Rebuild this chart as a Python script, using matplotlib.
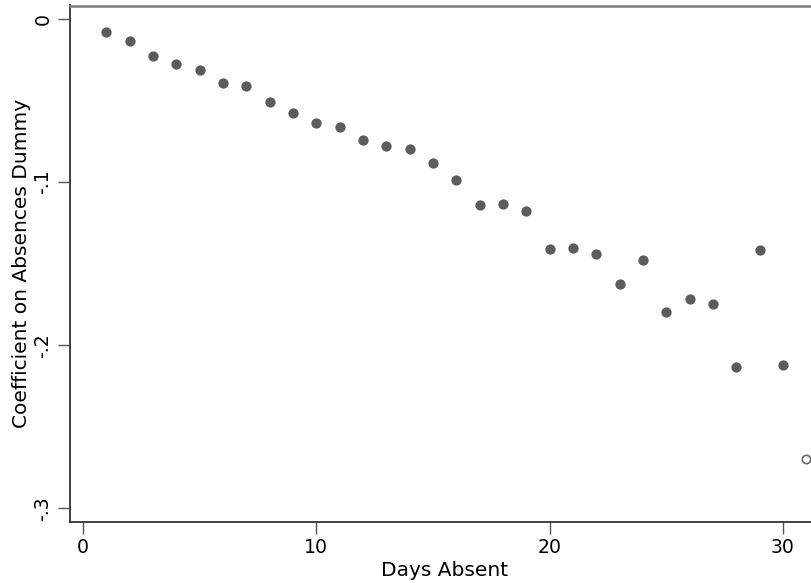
import matplotlib
matplotlib.use("Agg")
import matplotlib.pyplot as plt

days = list(range(1, 31))
coefs = [-0.0082, -0.0133, -0.0229, -0.0274, -0.0311, -0.0394, -0.0413, -0.0507,
         -0.0578, -0.0635, -0.0660, -0.0742, -0.0780, -0.0799, -0.0881, -0.0989,
         -0.1142, -0.1136, -0.1180, -0.1408, -0.1402, -0.1441, -0.1625, -0.1478,
         -0.1796, -0.1719, -0.1746, -0.2132, -0.1414, -0.2120]
open_days = [31]
open_coefs = [-0.2698]

xticks = [0, 10, 20, 30]
yticks = [0, -0.1, -0.2, -0.3]
yticklabels = ["0", "-.1", "-.2", "-.3"]

plt.rcParams['font.family'] = ['DejaVu Sans']
fig = plt.figure(figsize=(8.12, 5.83), dpi=100)
ax = fig.add_axes([69.7/812, 1-522/583, 1-69.7/812, (522-5.5)/583])

ax.plot(days, coefs, 'o', color='#5c5c5c', markersize=7.4, markeredgewidth=0, clip_on=False)
ax.plot(open_days, open_coefs, 'o', markerfacecolor='white', markeredgecolor='#6a6a6a',
        markersize=6.0, markeredgewidth=1.2, clip_on=False)

ax.set_xlim(-0.57, 31.246)
ax.set_ylim(-0.3084, 0.00828)

ax.set_xticks(xticks)
ax.set_xticklabels([str(t) for t in xticks])
ax.set_yticks(yticks)
ax.set_yticklabels(yticklabels, rotation=90, va='center')

for s in ['left', 'bottom']:
    ax.spines[s].set_color('#333333')
    ax.spines[s].set_linewidth(1.3)
ax.spines['top'].set_color('#7a7a7a')
ax.spines['top'].set_linewidth(1.8)
ax.spines['right'].set_visible(False)

ax.tick_params(axis='both', length=8.5, width=1.0, color='#555555', labelsize=13.6, labelcolor='black')
ax.tick_params(axis='x', pad=3)
ax.tick_params(axis='y', pad=4)

ax.set_xlabel('Days Absent', fontsize=14.5, va='center')
ax.set_ylabel('Coefficient on Absences Dummy', fontsize=14.5, va='center')
ax.xaxis.set_label_coords((445 - 69.7) / 742.3, -(570 - 522) / 516.5)
ax.yaxis.set_label_coords(-(69.7 - 22) / 742.3, (522 - 263) / 516.5)

fig.savefig('out.png', dpi=100)
